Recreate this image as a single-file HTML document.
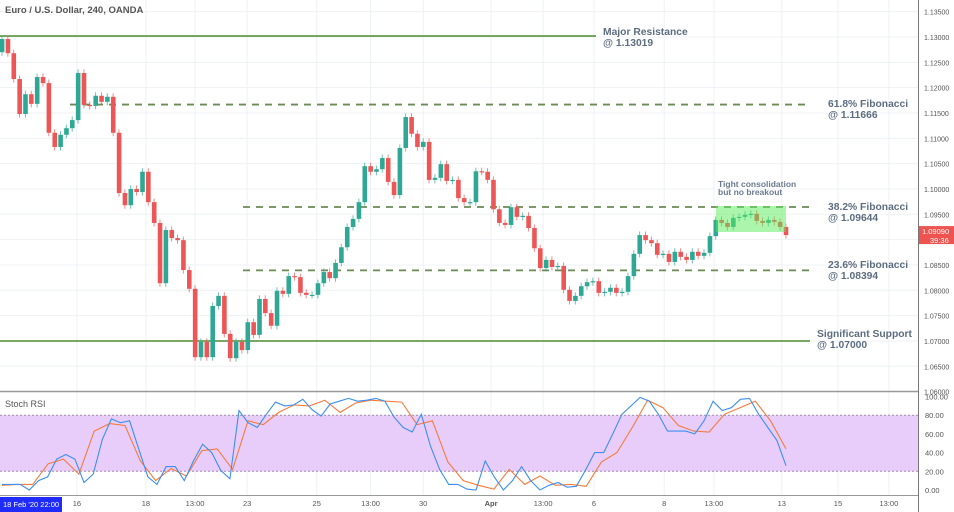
<!DOCTYPE html>
<html><head><meta charset="utf-8"><style>
html,body{margin:0;padding:0;background:#fff;}
svg{display:block;font-family:"Liberation Sans",sans-serif;}
</style></head><body>
<svg id="chart" width="954" height="512" viewBox="0 0 954 512">
<rect x="0" y="0" width="954" height="512" fill="#ffffff"/>
<g id="grid"></g>
<g id="levels"></g>
<g id="candles"></g>
<rect x="716" y="206" width="70" height="26" fill="rgba(90,235,90,0.5)"/>
<g id="axis"></g>
<g id="rsi"></g>
<g id="labels" font-size="10.3" font-weight="bold" fill="#5d6d80">
<text x="5" y="13" font-size="9.5" fill="#555">Euro / U.S. Dollar, 240, OANDA</text>
<text x="603" y="35">Major Resistance</text>
<text x="603" y="46">@ 1.13019</text>
<text x="828" y="107">61.8% Fibonacci</text>
<text x="828" y="118">@ 1.11666</text>
<text x="828" y="210">38.2% Fibonacci</text>
<text x="828" y="221">@ 1.09644</text>
<text x="828" y="268">23.6% Fibonacci</text>
<text x="828" y="279">@ 1.08394</text>
<text x="817" y="337">Significant Support</text>
<text x="817" y="348">@ 1.07000</text>
<text x="718" y="187" font-size="8.5" fill="#6a7a90">Tight consolidation</text>
<text x="718" y="195" font-size="8.5" fill="#6a7a90">but no breakout</text>
</g>
</svg>
<script>
const firstOpen = 1.1270;
const closes = [1.1296,1.1268,1.1217,1.1148,1.1187,1.1168,1.1221,1.1209,1.1111,1.1083,1.1107,1.1120,1.1136,1.1229,1.1166,1.1164,1.1184,1.1172,1.1182,1.1111,1.0992,1.0968,1.1000,1.0994,1.1034,1.0974,1.0933,1.0814,1.0919,1.0903,1.0899,1.0840,1.0803,1.0668,1.0698,1.0668,1.0769,1.0789,1.0714,1.0666,1.0698,1.0682,1.0737,1.0712,1.0783,1.0755,1.0730,1.0799,1.0793,1.0828,1.0826,1.0795,1.0791,1.0791,1.0814,1.0836,1.0824,1.0854,1.0885,1.0925,1.0941,1.0974,1.1045,1.1034,1.1039,1.1061,1.1014,1.0988,
1.1081,1.1142,1.1109,1.1083,1.1093,1.1018,1.1022,1.1049,1.1016,1.1018,1.0982,1.0974,1.0974,1.1035,1.1034,1.1018,1.0960,1.0933,1.0929,1.0964,1.0945,1.0947,1.0923,1.0883,1.0844,1.0860,1.0846,1.0848,1.0801,1.0779,1.0789,1.0808,1.0816,1.0818,1.0795,1.0797,1.0805,1.0795,1.0797,1.0828,1.0872,1.0909,1.0899,1.0893,1.0870,1.0872,1.0856,1.0876,1.0866,1.0860,1.0876,1.0868,1.0874,1.0907,1.0939,1.0933,1.0925,1.0943,1.0945,1.0949,1.0951,1.0937,1.0933,1.0939,1.0935,1.0925,1.0909];
const wick = 0.0007;
const levelPrices = [1.13019,1.11666,1.09644,1.08394,1.07000];
const priceTicks = [1.135,1.13,1.125,1.12,1.115,1.11,1.105,1.10,1.095,1.09,1.085,1.08,1.075,1.07,1.065,1.06];
const timeLabels = ["16","18","13:00","23","25","13:00","30","Apr","13:00","6","8","13:00","13","15","13:00"];
const timeIdx = [12.8,24.6,33,41.9,53.8,63,72,83.6,92.5,101.2,113.2,121.7,133.3,142.9,151.6];
const stochK = [6,6,6,0,10,14,33,38,33,8,17,54,76,72,74,44,14,6,25,25,10,31,49,40,21,12,85,72,67,81,94,90,91,97,86,79,92,95,98,95,96,98,95,78,67,62,81,47,22,6,6,1,0,31,14,0,10,25,10,0,5,8,3,4,21,40,40,60,81,90,99,95,81,63,63,63,60,74,95,85,88,97,98,81,67,53,26];
const stochD = [5,6,6,28,33,17,63,71,69,31,10,23,15,42,44,22,74,70,83,91,90,96,83,93,96,95,94,70,74,30,10,5,1,22,6,15,5,6,4,30,40,67,96,88,69,63,62,81,88,95,74,44];
const rsiTicks = [100,80,60,40,20,0];

const NS = "http://www.w3.org/2000/svg";
function mk(tag, attrs, parent){const e=document.createElementNS(NS,tag);for(const k in attrs)e.setAttribute(k,attrs[k]);parent.appendChild(e);return e;}
const yP = p => 37 + (1.13 - p) * 5066;
const xI = i => 2 + i * 5.85;
const yR = v => 490 - v * 0.935;
const X0 = 2, X1 = 786;

const grid = document.getElementById('grid');
priceTicks.forEach(p=>{
  const l=mk('line',{x1:0,x2:918,y1:yP(p),y2:yP(p),stroke:'#eef1f5','stroke-width':1},grid);
  
  
});
timeIdx.forEach(t=>{
  const l=mk('line',{x1:xI(t),x2:xI(t),y1:0,y2:495,stroke:'#eef1f5','stroke-width':1},grid);
  
  
});

const lv = document.getElementById('levels');
const lvStart=[0,70,243,243,0], lvEnd=[596,810,810,810,810], lvDash=[false,true,true,true,false];
levelPrices.forEach((p,i)=>{
  const a={x1:lvStart[i],x2:lvEnd[i],y1:yP(p),y2:yP(p),stroke:lvDash[i]?'#6b8a55':'#4f8a2e','stroke-width':lvDash[i]?1.8:1.5};
  if(lvDash[i]) a['stroke-dasharray']='7 6';
  const l=mk('line',a,lv);
  
  
});

const cg = document.getElementById('candles');
let prev = firstOpen;
closes.forEach((c,i)=>{
  const o=prev; prev=c;
  const up=c>=o; const col=up?'#2ea895':'#ec5656';
  const x=xI(i);
  const hi=Math.max(o,c)+wick, lo=Math.min(o,c)-wick;
  const w=mk('line',{x1:x,x2:x,y1:yP(hi),y2:yP(lo),stroke:col,'stroke-width':1,opacity:0.7},cg);
  
  
  const top=yP(Math.max(o,c)), h=Math.max(1.2,yP(Math.min(o,c))-top);
  const b=mk('rect',{x:x-2.2,y:top,width:4.6,height:h,fill:col},cg);
  
  
});

const ax = document.getElementById('axis');
mk('line',{x1:918.5,x2:918.5,y1:0,y2:512,stroke:'#777','stroke-width':1},ax);
priceTicks.forEach(p=>{
  const t=mk('text',{x:924,y:yP(p)+3,'font-size':7,fill:'#555'},ax);
  t.textContent=p.toFixed(5);
  
  
});
const last=closes[closes.length-1];
const tag=mk('rect',{x:919,y:yP(last)-9,width:35,height:18,fill:'#ef5350'},ax);


const t1=mk('text',{x:922,y:yP(last)-1,'font-size':7.5,fill:'#fff'},ax);
t1.textContent=last.toFixed(5);


const t2=mk('text',{x:930,y:yP(last)+8,'font-size':7.5,fill:'#fff'},ax);
t2.textContent='39:36';



const r = document.getElementById('rsi');
mk('line',{x1:0,x2:918,y1:391.5,y2:391.5,stroke:'#999','stroke-width':1.5},r);
const band=mk('rect',{x:0,y:yR(80),width:918,height:yR(20)-yR(80),fill:'#e8cdfb'},r);


[80,20].forEach(v=>{
  const l=mk('line',{x1:0,x2:918,y1:yR(v),y2:yR(v),stroke:'#a08aa8','stroke-width':1,'stroke-dasharray':'2 2'},r);
  
  
});
rsiTicks.forEach(v=>{
  const t=mk('text',{x:925,y:yR(v)+3,'font-size':7.5,fill:'#555'},r);
  t.textContent=v.toFixed(2);
  
  
});
const st=mk('text',{x:5,y:407,'font-size':9,fill:'#555'},r);
st.textContent='Stoch RSI';


function series(arr,col,name){
  const n=arr.length;
  const pts=arr.map((v,i)=>(X0+(X1-X0)*i/(n-1)).toFixed(1)+','+yR(v).toFixed(1)).join(' ');
  const pl=mk('polyline',{points:pts,fill:'none',stroke:col,'stroke-width':1.1},r);
  
  
}
series(stochD,'#f47c3c','stoch-d-line');
series(stochK,'#3d8ef0','stoch-k-line');
mk('line',{x1:0,x2:918,y1:495.5,y2:495.5,stroke:'#999','stroke-width':1},r);
timeLabels.forEach((s,i)=>{
  const t=mk('text',{x:xI(timeIdx[i]),y:506,'font-size':7.5,fill:'#555','text-anchor':'middle','font-weight':s==='Apr'?'bold':'normal'},r);
  t.textContent=s;
  
  
});
const db=mk('rect',{x:0,y:497,width:62,height:15,fill:'#1f2bff'},r);


const dt=mk('text',{x:3,y:507,'font-size':7.5,fill:'#fff'},r);
dt.textContent="18 Feb '20  22:00";


</script>
</body></html>
